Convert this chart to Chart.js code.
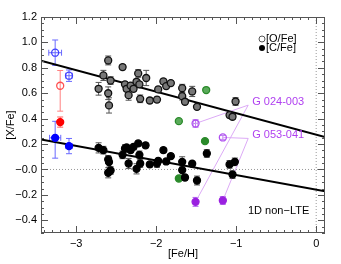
<!DOCTYPE html>
<html>
<head>
<meta charset="utf-8">
<script src="https://cdn.jsdelivr.net/npm/chart.js@4.4.0/dist/chart.umd.min.js"></script>
<style>
  html, body { margin: 0; padding: 0; background: #fff; }
  #wrap { width: 341px; height: 264px; }
</style>
</head>
<body>
<div id="wrap"><canvas id="chart"></canvas></div>
<script>
// Tick labels
const xTicks = [-3, -2, -1, 0];
const yTicks = [-0.4, -0.2, 0, 0.2, 0.4, 0.6, 0.8, 1.0, 1.2];

// Main sample: [O/Fe]
const oFeH = [-2.72, -2.66, -2.60, -2.60, -2.59, -2.57, -2.42, -2.39, -2.37, -2.345, -2.32, -2.283, -2.246, -2.225, -2.21, -2.20, -2.125, -2.08, -1.99, -1.975, -1.91, -1.875, -1.817, -1.675, -1.675, -1.64, -1.55, -1.49, -1.083, -1.046, -1.008];
const oXFe = [0.635, 0.74, 0.858, 0.60, 0.504, 0.70, 0.806, 0.67, 0.635, 0.585, 0.66, 0.635, 0.69, 0.756, 0.67, 0.556, 0.72, 0.543, 0.55, 0.63, 0.693, 0.656, 0.68, 0.64, 0.577, 0.533, 0.614, 0.493, 0.428, 0.415, 0.535];
const oErr = [0.05, 0.04, 0.035, 0.05, 0.06, 0.03, 0.02, 0.02, 0.02, 0.04, 0.02, 0.02, 0.02, 0.03, 0.02, 0.03, 0.06, 0.02, 0.02, 0.02, 0.02, 0.02, 0.02, 0.03, 0.03, 0.02, 0.04, 0.02, 0.02, 0.02, 0.03];

// Main sample: [C/Fe]
const cFeH = [-2.72, -2.66, -2.60, -2.59, -2.60, -2.57, -2.42, -2.39, -2.37, -2.345, -2.32, -2.283, -2.246, -2.225, -2.21, -2.20, -2.133, -2.08, -1.99, -1.975, -1.91, -1.875, -1.817, -1.675, -1.675, -1.64, -1.55, -1.49, -1.367, -1.083, -1.046, -1.017];
const cXFe = [0.17, 0.152, 0.079, 0.058, -0.026, -0.008, 0.115, 0.165, 0.173, 0.047, 0.152, 0.178, 0.005, 0.205, 0.115, 0.047, 0.19, 0.04, 0.047, 0.068, 0.152, 0.063, 0.105, 0.06, -0.005, -0.063, 0.045, -0.087, 0.126, 0.04, -0.04, 0.06];
const cErr = [0.04, 0.03, 0.03, 0.04, 0.04, 0.03, 0.03, 0.03, 0.02, 0.04, 0.02, 0.02, 0.04, 0.02, 0.03, 0.03, 0.02, 0.02, 0.03, 0.02, 0.02, 0.02, 0.02, 0.04, 0.04, 0.02, 0.02, 0.035, 0.03, 0.03, 0.03, 0.03];

// Green stars
const greenOFeH = [-1.375, -1.717];
const greenOXFe = [0.625, 0.38];
const greenCFeH = [-1.39, -1.717];
const greenCXFe = [0.223, -0.071];

// Purple stars (G 024-003, G 053-041)
const purpleFeH = [-1.508, -1.167];
const purpleOXFe = [0.362, 0.252];
const purpleOErr = [0.03, 0.015];
const purpleOErrX = [0.03, 0];
const purpleCXFe = [-0.255, -0.244];
const purpleCErr = [0.035, 0.03];
const purpleNames = ['G 024-003', 'G 053-041'];
const purpleLabelX = [-0.8, -0.8];
const purpleLabelY = [0.53, 0.268];

// Red star
const redFeH = [-3.2];
const redOXFe = [0.659];
const redOErr = [[0.2, 0.12]];
const redCXFe = [0.373];
const redCErr = [0.04];

// Blue stars
const blueFeH = [-3.263, -3.09];
const blueOXFe = [0.919, 0.738];
const blueOErr = [0.1, 0.045];
const blueOErrX = [0.08, 0.04];
const blueCXFe = [0.249, 0.184];
const blueCErr = [[0.16, 0.13], 0.06];
const blueCErrX = [0.07, 0.04];

// Fitted trends
const fitFeH = [-3.44, 0.11];
const fitO = [0.855, 0.255];
const fitC = [0.236, -0.171];

const pts = (xs, ys) => xs.map((x, i) => ({ x: x, y: ys[i] }));
const minus = v => (v < 0 || v === 0 ? '\u2212' : '') + Math.abs(v).toFixed(1);

function markerSet(label, xs, ys, fill, stroke, errY, errX, errColor) {
    return {
        label: label,
        data: pts(xs, ys),
        backgroundColor: fill,
        borderColor: stroke,
        borderWidth: 1.3,
        pointRadius: 3.5,
        pointHoverRadius: 3.5,
        showLine: false,
        errY: errY,
        errX: errX,
        errColor: errColor
    };
}

// Error bars drawn under the markers
const errorBars = {
    id: 'errorBars',
    beforeDatasetsDraw(chart) {
        const { ctx, scales: { x, y } } = chart;
        ctx.save();
        ctx.lineWidth = 1;
        chart.data.datasets.forEach(ds => {
            if (!ds.errY) return;
            ctx.strokeStyle = ds.errColor;
            ds.data.forEach((p, j) => {
                const px = x.getPixelForValue(p.x);
                const py = y.getPixelForValue(p.y);
                const e = ds.errY[j];
                if (e) {
                    const lo = Array.isArray(e) ? e[0] : e;
                    const hi = Array.isArray(e) ? e[1] : e;
                    const t = y.getPixelForValue(p.y + hi);
                    const b = y.getPixelForValue(p.y - lo);
                    ctx.beginPath();
                    ctx.moveTo(px, t); ctx.lineTo(px, b);
                    ctx.moveTo(px - 3, t); ctx.lineTo(px + 3, t);
                    ctx.moveTo(px - 3, b); ctx.lineTo(px + 3, b);
                    ctx.stroke();
                }
                const ex = ds.errX ? ds.errX[j] : 0;
                if (ex) {
                    const l = x.getPixelForValue(p.x - ex);
                    const r = x.getPixelForValue(p.x + ex);
                    ctx.beginPath();
                    ctx.moveTo(l, py); ctx.lineTo(r, py);
                    ctx.moveTo(l, py - 3); ctx.lineTo(l, py + 3);
                    ctx.moveTo(r, py - 3); ctx.lineTo(r, py + 3);
                    ctx.stroke();
                }
            });
        });

        // zero lines
        ctx.strokeStyle = '#999';
        ctx.setLineDash([1, 2]);
        const a = chart.chartArea;
        const y0 = y.getPixelForValue(0);
        const x0 = x.getPixelForValue(0);
        ctx.beginPath();
        ctx.moveTo(a.left, y0); ctx.lineTo(a.right, y0);
        ctx.moveTo(x0, a.top); ctx.lineTo(x0, a.bottom);
        ctx.stroke();
        ctx.setLineDash([]);

        // connectors for the labelled stars
        ctx.strokeStyle = '#dcaaf6';
        purpleFeH.forEach((fe, i) => {
            const lx = x.getPixelForValue(purpleLabelX[i]) - 4;
            const ly = y.getPixelForValue(purpleLabelY[i]) + 3;
            ctx.beginPath();
            ctx.moveTo(lx, ly); ctx.lineTo(x.getPixelForValue(fe), y.getPixelForValue(purpleOXFe[i]));
            ctx.moveTo(lx, ly); ctx.lineTo(x.getPixelForValue(fe), y.getPixelForValue(purpleCXFe[i]));
            ctx.stroke();
        });
        ctx.restore();
    }
};

// Frame, inward ticks, legend and annotations
const frame = {
    id: 'frame',
    afterDraw(chart) {
        const { ctx, chartArea: a, scales: { x, y } } = chart;
        ctx.save();
        ctx.strokeStyle = '#555';
        ctx.lineWidth = 1;
        ctx.strokeRect(a.left + 0.5, a.top + 0.5, a.right - a.left - 1, a.bottom - a.top - 1);
        ctx.beginPath();
        for (let v = -3.4; v <= 0.1001; v += 0.1) {
            const px = Math.round(x.getPixelForValue(v)) + 0.5;
            const major = Math.abs(v - Math.round(v)) < 1e-6;
            const len = major ? 7 : 3;
            ctx.moveTo(px, a.bottom); ctx.lineTo(px, a.bottom - len);
            ctx.moveTo(px, a.top); ctx.lineTo(px, a.top + len);
        }
        for (let v = -0.5; v <= 1.2001; v += 0.05) {
            const py = Math.round(y.getPixelForValue(v)) + 0.5;
            const major = Math.abs(v * 5 - Math.round(v * 5)) < 1e-6;
            const len = major ? 7 : 3;
            ctx.moveTo(a.left, py); ctx.lineTo(a.left + len, py);
            ctx.moveTo(a.right, py); ctx.lineTo(a.right - len, py);
        }
        ctx.stroke();

        // legend
        ctx.font = '11px "Liberation Sans", Arial, sans-serif';
        ctx.textBaseline = 'middle';
        ctx.fillStyle = '#000';
        ctx.beginPath();
        ctx.arc(262, 39, 3, 0, Math.PI * 2);
        ctx.stroke();
        ctx.beginPath();
        ctx.arc(262, 48, 3, 0, Math.PI * 2);
        ctx.fill();
        ctx.fillText('[O/Fe]', 266, 39);
        ctx.fillText('[C/Fe]', 266, 48);

        // star names
        ctx.font = '11px "Liberation Sans", Arial, sans-serif';
        ctx.fillStyle = '#b040f0';
        purpleNames.forEach((n, i) => {
            ctx.fillText(n, x.getPixelForValue(purpleLabelX[i]), y.getPixelForValue(purpleLabelY[i]));
        });

        ctx.fillStyle = '#000';
        ctx.fillText('1D non\u2212LTE', 248, 211);
        ctx.restore();
    }
};

const datasets = [
    markerSet('[O/Fe]', oFeH, oXFe, '#777', '#111', oErr, null, '#555'),
    markerSet('[C/Fe]', cFeH, cXFe, '#000', '#000', cErr, null, '#555'),
    markerSet('green O', greenOFeH, greenOXFe, '#5aaa5a', '#2a8a2a', null, null, '#5aaa5a'),
    markerSet('green C', greenCFeH, greenCXFe, '#2a8a2a', '#2a8a2a', null, null, '#2a8a2a'),
    markerSet('purple O', purpleFeH, purpleOXFe, 'rgba(255,255,255,0)', '#b050f0', purpleOErr, purpleOErrX, '#c080f0'),
    markerSet('purple C', purpleFeH, purpleCXFe, '#9a20e0', '#9a20e0', purpleCErr, null, '#b060f0'),
    markerSet('red O', redFeH, redOXFe, 'rgba(255,255,255,0)', '#ff5050', redOErr, null, '#ff8080'),
    markerSet('red C', redFeH, redCXFe, '#ff0000', '#ff0000', redCErr, null, '#ff6060'),
    markerSet('blue O', blueFeH, blueOXFe, 'rgba(255,255,255,0)', '#4040ff', blueOErr, blueOErrX, '#6a6aff'),
    markerSet('blue C', blueFeH, blueCXFe, '#0000ff', '#0000ff', blueCErr, blueCErrX, '#6a6aff'),
    {
        label: 'fit O', data: pts(fitFeH, fitO), showLine: true,
        borderColor: '#000', borderWidth: 2, pointRadius: 0
    },
    {
        label: 'fit C', data: pts(fitFeH, fitC), showLine: true,
        borderColor: '#000', borderWidth: 2, pointRadius: 0
    }
];

new Chart(document.getElementById('chart'), {
    type: 'scatter',
    data: { datasets: datasets },
    options: {
        responsive: true,
        maintainAspectRatio: false,
        animation: false,
        layout: { padding: { top: 17, right: 16, left: 0, bottom: 0 } },
        plugins: { legend: { display: false }, tooltip: { enabled: false } },
        scales: {
            x: {
                type: 'linear', min: -3.44, max: 0.11,
                afterBuildTicks: s => { s.ticks = xTicks.map(v => ({ value: v })); },
                afterFit: s => { s.height = 31; },
                grid: { display: false, drawTicks: false },
                border: { display: false },
                ticks: {
                    padding: 4, color: '#000',
                    font: { family: '"Liberation Sans", Arial, sans-serif', size: 11 },
                    callback: v => (v < 0 ? '\u2212' + Math.abs(v) : String(v))
                },
                title: {
                    display: true, text: '[Fe/H]', color: '#000', padding: { top: 0, bottom: 3 },
                    font: { family: '"Liberation Sans", Arial, sans-serif', size: 11 }
                }
            },
            y: {
                type: 'linear', min: -0.5, max: 1.2,
                afterBuildTicks: s => { s.ticks = yTicks.map(v => ({ value: v })); },
                afterFit: s => { s.width = 41; },
                grid: { display: false, drawTicks: false },
                border: { display: false },
                ticks: {
                    padding: 4, color: '#000',
                    font: { family: '"Liberation Sans", Arial, sans-serif', size: 11 },
                    callback: v => minus(v)
                },
                title: {
                    display: true, text: '[X/Fe]', color: '#000', padding: { top: 4, bottom: 0 },
                    font: { family: '"Liberation Sans", Arial, sans-serif', size: 11 }
                }
            }
        }
    },
    plugins: [errorBars, frame]
});
</script>
</body>
</html>
